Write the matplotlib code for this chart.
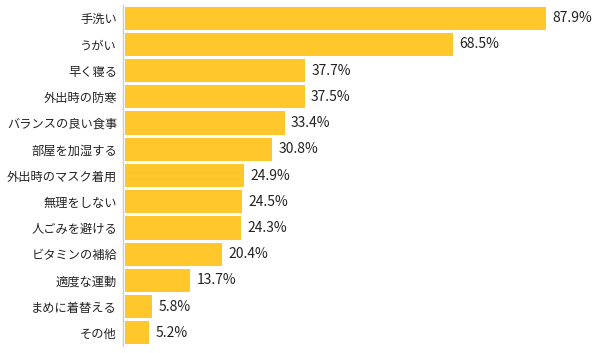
import matplotlib
matplotlib.use("Agg")
import matplotlib.pyplot as plt
from matplotlib.lines import Line2D

categories = ["手洗い", "うがい", "早く寝る", "外出時の防寒", "バランスの良い食事", "部屋を加湿する",
              "外出時のマスク着用", "無理をしない", "人ごみを避ける", "ビタミンの補給",
              "適度な運動", "まめに着替える", "その他"]
values = [87.9, 68.5, 37.7, 37.5, 33.4, 30.8, 24.9, 24.5, 24.3, 20.4, 13.7, 5.8, 5.2]

plt.rcParams['font.family'] = ['Noto Sans CJK JP', 'DejaVu Sans']

fig = plt.figure(figsize=(6.0, 3.53), dpi=100)
x0 = 124.5
ax = fig.add_axes([x0/600, 7/353, 480/600, 341/353])

y = list(range(len(categories)))
ax.barh(y, values, height=0.88, color='#FFC72C', edgecolor='none')
for yi, v in zip(y, values):
    ax.text(v + 1.25, yi, f"{v}%", va='center', ha='left', fontsize=10, color='#222222')

ax.set_xlim(0, 100)
ax.set_ylim(len(categories) - 0.5, -0.5)
ax.set_yticks(y)
ax.set_yticklabels(categories, fontsize=8.8, color='#222222')
ax.tick_params(axis='y', length=0, pad=5.4)
ax.set_xticks([])
for s in ['top', 'right', 'bottom', 'left']:
    ax.spines[s].set_visible(False)

# axis line
fig.add_artist(Line2D([122.5/600, 122.5/600], [7/353, 348/353], color='#cccccc', lw=1))

fig.savefig("out.png", dpi=100)
